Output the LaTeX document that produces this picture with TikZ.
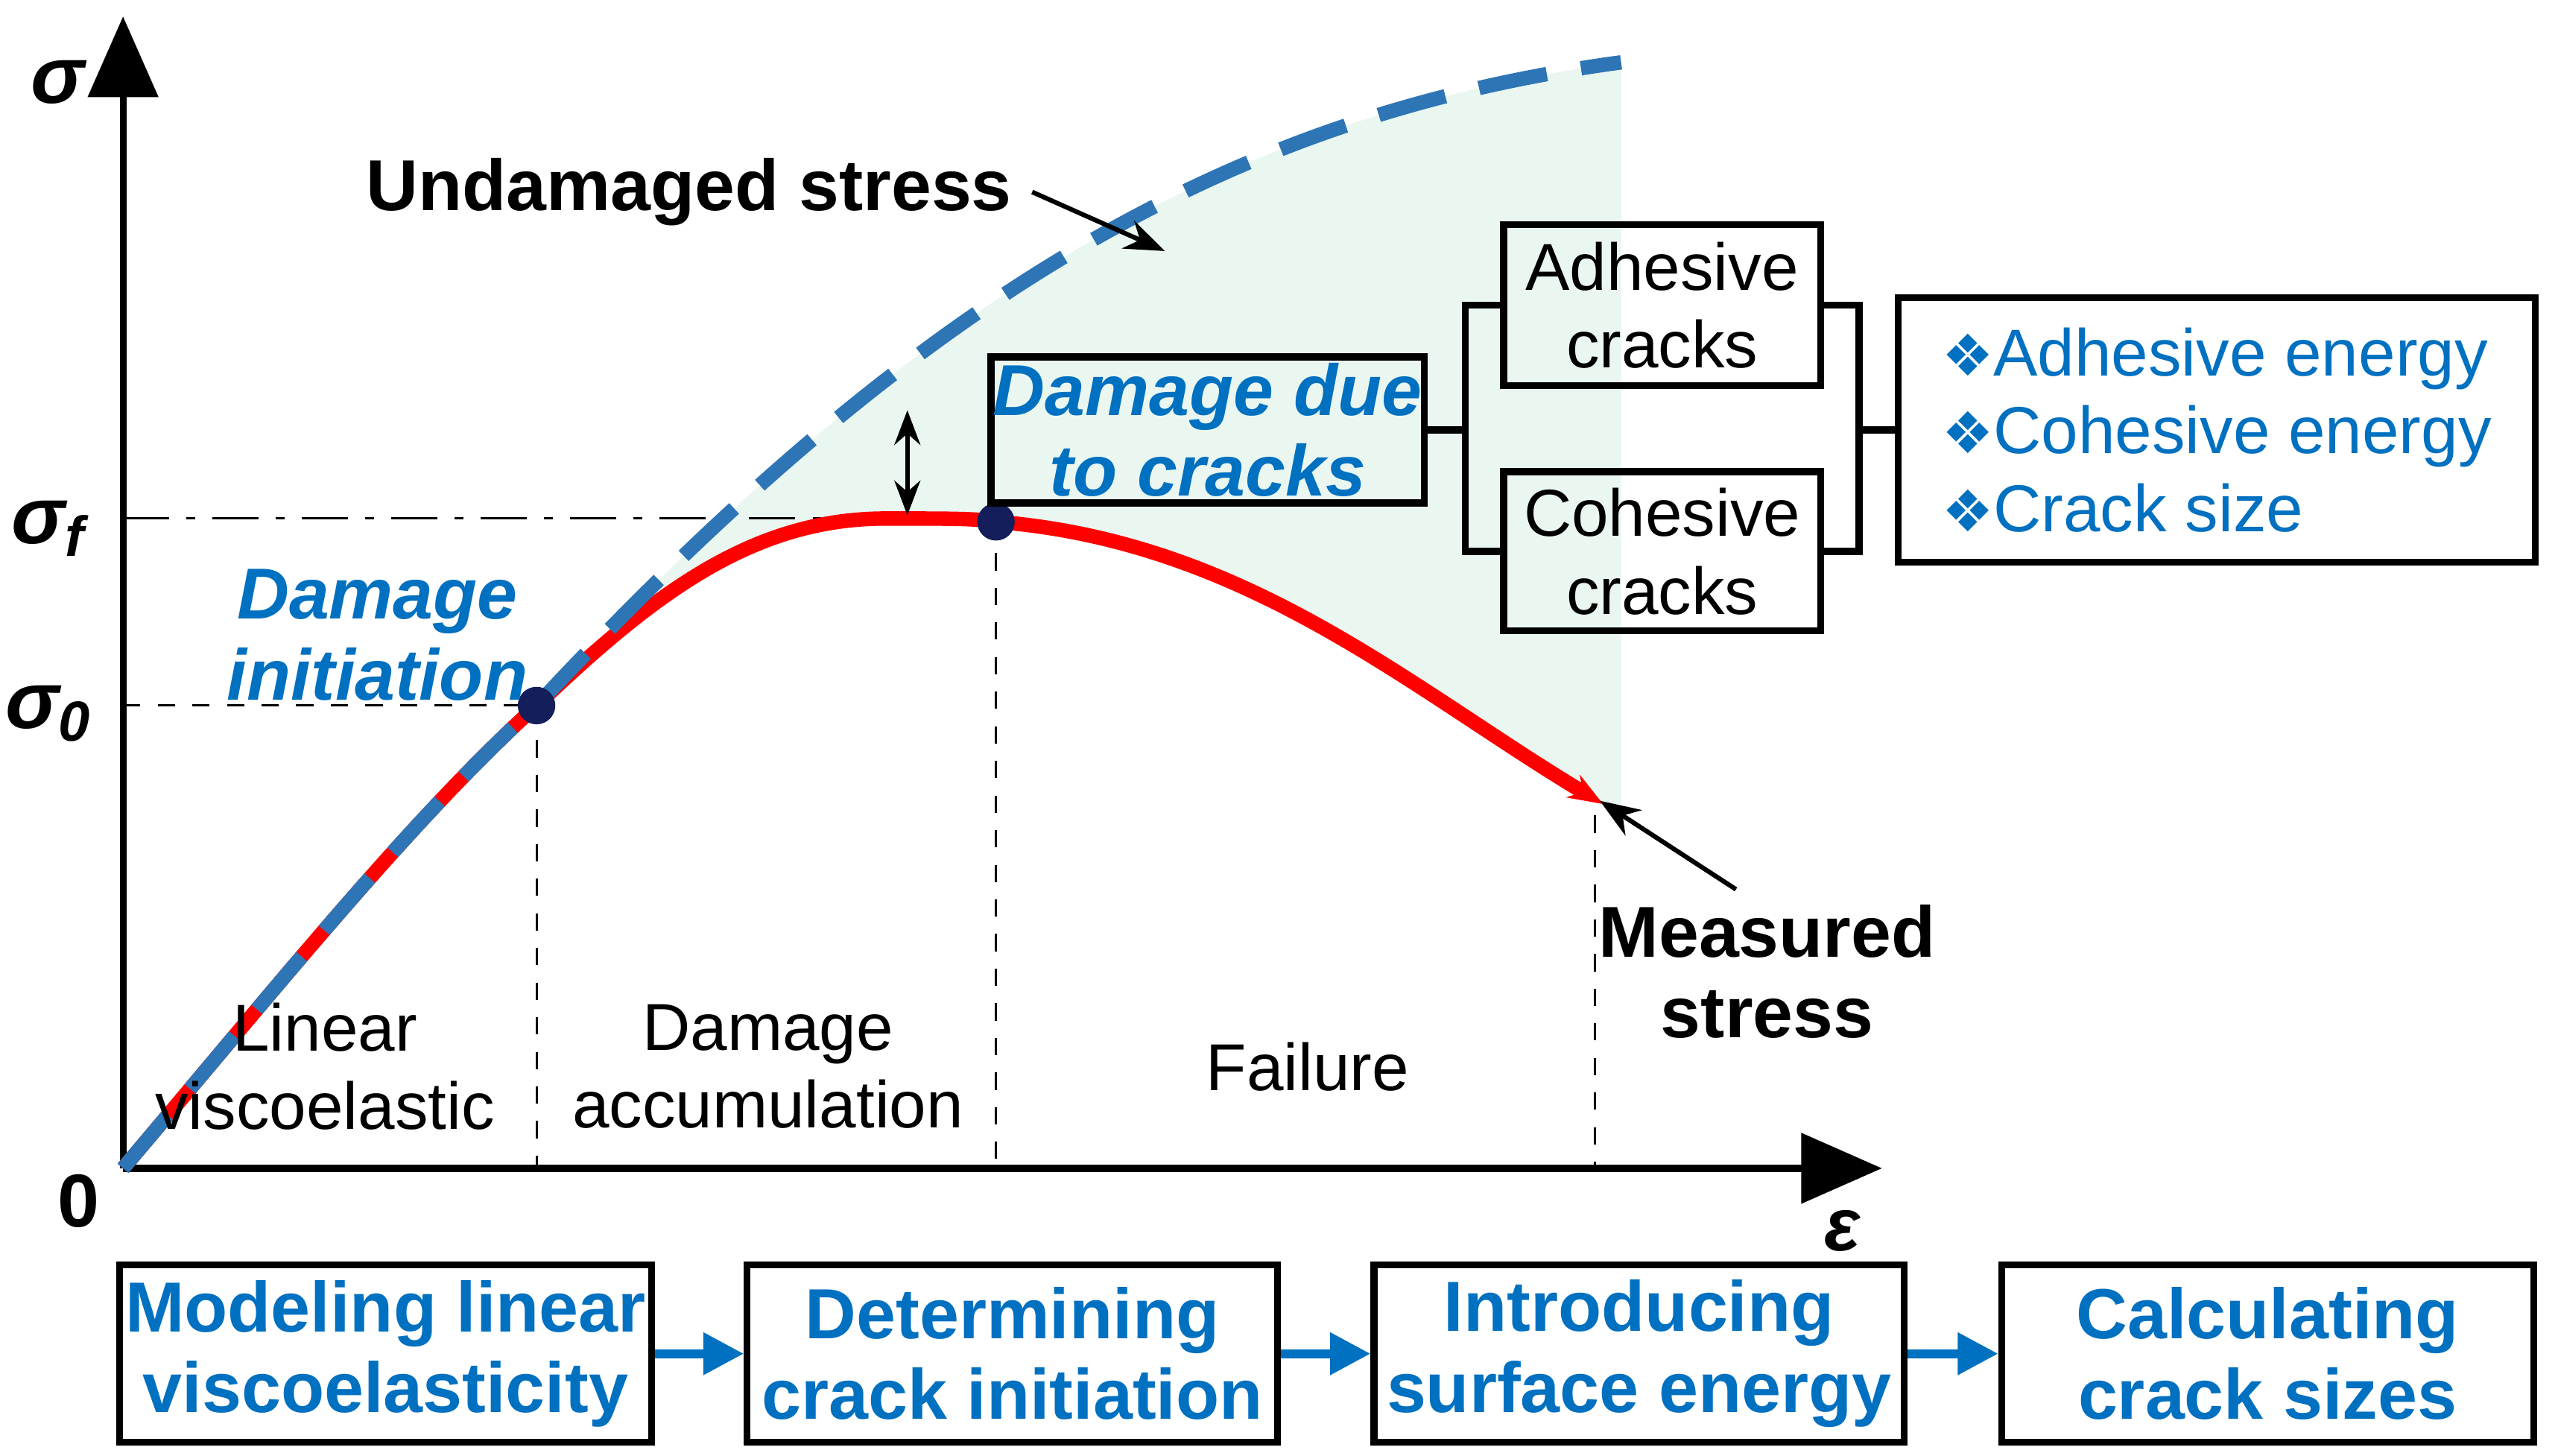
\documentclass[tikz,border=0pt]{standalone}
\usepackage{fontspec}
\setmainfont{Liberation Sans}
\newfontfamily\symf{DejaVu Sans}
\usetikzlibrary{arrows.meta}
\definecolor{tb}{RGB}{0,112,192}
\definecolor{db}{RGB}{46,117,182}
\definecolor{mint}{RGB}{234,247,241}
\definecolor{navy}{RGB}{20,30,90}
\begin{document}
\begin{tikzpicture}[x=0.01cm,y=-0.01cm,
 box/.style={draw,line width=1.2pt,inner sep=0pt,align=center},
 lab/.style={font=\fontsize{11.5}{13.5}\selectfont,align=center},
 blab/.style={font=\fontsize{12.5}{14}\selectfont\bfseries,align=center},
 ax/.style={font=\fontsize{14}{16}\selectfont\bfseries\itshape},
 stepbox/.style={box,text=tb,font=\fontsize{12.3}{14}\selectfont\bfseries,minimum height=1.08cm},
 flow/.style={-{Triangle[length=7pt,width=7pt]},line width=1.5pt,draw=tb},
 dot/.style={circle,fill=navy,inner sep=0pt,minimum size=6.5pt}]
\useasboundingbox (0,0) rectangle (1559,887);
\coordinate (O) at (75,712);
\coordinate (pf) at (607,318);
\coordinate (p0) at (327,430);
% shaded region
\fill[mint] (p0) .. controls (560,180) and (750,70) .. (988,38) -- (988,490) -- (977,490)
  .. controls (860,420) and (760,330) .. (pf) .. controls (595,316) and (580,316) .. (540,316)
  .. controls (460,316) and (400,360) .. (p0) -- cycle;
% axes
\coordinate (ytop) at (75,10);
\coordinate (xend) at (1147,712);
\draw[line width=1.2pt,-{Triangle[length=14pt,width=12pt]}] (O) -- (ytop);
\draw[line width=1.2pt,-{Triangle[length=14pt,width=12pt]}] (O) -- (xend);
\node[ax] (sig) at (35,50) {σ};
\node[ax] (sigf) at (30,322) {σ\textsubscript{f}};
\node[ax] (sig0) at (30,435) {σ\textsubscript{0}};
\node[ax,font=\fontsize{13}{16}\selectfont\bfseries] (zero) at (48,732) {0};
\node[ax,font=\fontsize{13}{16}\selectfont\bfseries\itshape] (eps) at (1123,750) {ε};
% reference lines
\draw[dash pattern=on 8pt off 3pt on 1.5pt off 3pt] (75,316) -- (607,316);
\draw[dashed] (75,430) -- (p0);
\draw[dashed] (p0) -- (327,712);
\draw[dashed] (607,316) -- (607,712);
\draw[dashed] (972,497) -- (972,712);
% curves
\draw[red,line width=2.5pt,-{Stealth[length=6pt]}] (O) .. controls (170,600) and (250,500) .. (p0)
  .. controls (400,360) and (460,316) .. (540,316) .. controls (580,316) and (595,316) .. (pf)
  .. controls (760,330) and (860,420) .. (977,490);
\draw[db,line width=2.5pt,dash pattern=on 12pt off 6pt] (O) .. controls (170,600) and (250,500) .. (p0)
  .. controls (560,180) and (750,70) .. (988,38);
\node[dot] (d0) at (p0) {};
\node[dot] (df) at (pf) {};
\coordinate (a1) at (553,250);
\coordinate (a2) at (553,314);
\draw[{Stealth[length=6pt]}-{Stealth[length=6pt]},line width=0.8pt] (a1) -- (a2);
% labels
\node[blab] (und) at (420,117) {Undamaged stress};
\coordinate (uarr) at (710,153);
\draw[-{Stealth[length=7pt]},line width=0.8pt] (und.east) -- (uarr);
\node[blab] (mea) at (1077,592) {Measured\\stress};
\coordinate (marr) at (975,488);
\draw[-{Stealth[length=7pt]},line width=0.8pt] (1058,542) -- (marr);
\node[blab,text=tb,font=\fontsize{12.5}{14}\selectfont\bfseries\itshape] (di) at (230,387) {Damage\\initiation};
\node[lab] (lv) at (198,650) {Linear\\viscoelastic};
\node[lab] (da) at (468,650) {Damage\\accumulation};
\node[lab] (fa) at (797,650) {Failure};
% crack boxes
\node[box,text=tb,font=\fontsize{12.5}{14}\selectfont\bfseries\itshape,minimum width=2.64cm,minimum height=0.89cm] (dd) at (736,262) {Damage due\\to cracks};
\node[box,font=\fontsize{11.5}{13.5}\selectfont,minimum width=1.93cm,minimum height=0.98cm] (ad) at (1013,186) {Adhesive\\cracks};
\node[box,font=\fontsize{11.5}{13.5}\selectfont,minimum width=1.93cm,minimum height=0.97cm] (co) at (1013,336) {Cohesive\\cracks};
\node[box,font=\fontsize{11.5}{13.5}\selectfont,text=tb,align=left,minimum width=3.88cm,minimum height=1.61cm] (en) at (1351,262)
 {{\symf\fontsize{10}{12}\selectfont ❖}Adhesive energy\\{\symf\fontsize{10}{12}\selectfont ❖}Cohesive energy\\{\symf\fontsize{10}{12}\selectfont ❖}Crack size};
\draw[line width=1.2pt] (dd.east) -- (893,262) (ad.west) -| (893,262) |- (co.west);
\draw[line width=1.2pt] (ad.east) -| (1133,262) |- (co.east) (1133,262) -- (en.west);
% steps
\node[stepbox,minimum width=3.24cm] (s1) at (235,825) {Modeling linear\\viscoelasticity};
\node[stepbox,minimum width=3.23cm] (s2) at (617,825) {Determining\\crack initiation};
\node[stepbox,minimum width=3.23cm] (s3) at (999,825) {Introducing\\surface energy};
\node[stepbox,minimum width=3.24cm] (s4) at (1382,825) {Calculating\\crack sizes};
\draw[flow] (s1) -- (s2);
\draw[flow] (s2) -- (s3);
\draw[flow] (s3) -- (s4);
\end{tikzpicture}
\end{document}
